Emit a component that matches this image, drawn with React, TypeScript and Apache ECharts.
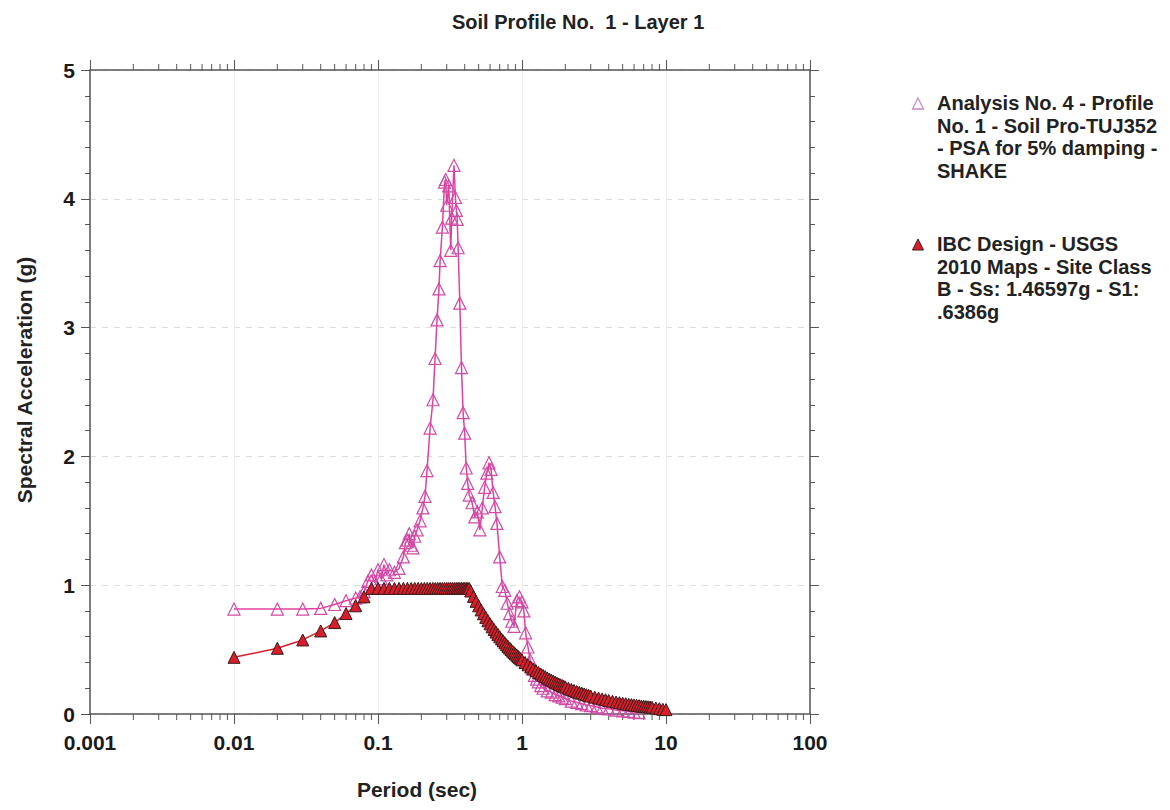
import React, { useEffect, useRef } from "react";
import * as echarts from "echarts";

const xTickLabels = ["0.001", "0.01", "0.1", "1", "10", "100"];
const yTickLabels = ["0", "1", "2", "3", "4", "5"];

// Analysis No. 4 - PSA for 5% damping (SHAKE)
const psaPeriods = [
  0.01, 0.02, 0.03, 0.04, 0.05, 0.06, 0.07, 0.075, 0.08, 0.085, 0.09, 0.095,
  0.1, 0.105, 0.11, 0.115, 0.12, 0.13, 0.14, 0.15, 0.155, 0.16, 0.165, 0.17,
  0.175, 0.18, 0.187, 0.196, 0.205, 0.212, 0.219, 0.23, 0.241, 0.249, 0.257,
  0.265, 0.27, 0.28, 0.29, 0.295, 0.3, 0.31, 0.32, 0.325, 0.337, 0.345, 0.35,
  0.355, 0.36, 0.37, 0.38, 0.39, 0.4, 0.41, 0.42, 0.43, 0.45, 0.47, 0.49, 0.51,
  0.53, 0.55, 0.57, 0.59, 0.61, 0.63, 0.65, 0.67, 0.7, 0.73, 0.76, 0.79, 0.82,
  0.85, 0.88, 0.92, 0.96, 1.0, 1.03, 1.06, 1.1, 1.14, 1.18, 1.22, 1.26, 1.3,
  1.35, 1.4, 1.5, 1.6, 1.7, 1.8, 1.9, 2.0, 2.2, 2.4, 2.6, 2.8, 3.0, 3.3, 3.6,
  4.0, 4.5, 5.0, 5.5, 6.0, 6.5,
];
const psaSA = [
  0.815, 0.815, 0.815, 0.82, 0.85, 0.88, 0.9, 0.91, 0.95, 1.03, 1.08, 1.02,
  1.12, 1.05, 1.16, 1.08, 1.12, 1.1, 1.13, 1.22, 1.33, 1.35, 1.4, 1.31,
  1.29, 1.38, 1.43, 1.5, 1.6, 1.69, 1.89, 2.22, 2.44, 2.76, 3.06,
  3.3, 3.52, 3.78, 4.13, 4.15, 3.95, 4.1, 3.6, 3.85, 4.26, 4.01, 3.91,
  3.84, 3.62, 3.19, 2.69, 2.34, 2.18, 1.91, 1.79, 1.7, 1.64, 1.53, 1.57, 1.43,
  1.6, 1.76, 1.87, 1.95, 1.9, 1.72, 1.61, 1.48, 1.22, 0.99, 0.96, 0.86, 0.78,
  0.72, 0.68, 0.88, 0.91, 0.87, 0.8, 0.63, 0.52, 0.42, 0.35, 0.3, 0.27, 0.25,
  0.22, 0.2, 0.18, 0.17, 0.15, 0.14, 0.13, 0.12, 0.1, 0.09, 0.08, 0.07, 0.065, 0.055, 0.045,
  0.04, 0.03, 0.025, 0.02, 0.015, 0.01,
];

// IBC Design - USGS 2010 Maps - Site Class B
const ibcPeriods = [
  0.01, 0.02, 0.03, 0.04, 0.05, 0.06, 0.07, 0.08,
  0.09, 0.1, 0.11, 0.12, 0.13, 0.14, 0.15, 0.16, 0.17, 0.18, 0.19, 0.2, 0.21,
  0.22, 0.23, 0.24, 0.25, 0.26, 0.27, 0.28, 0.29, 0.3, 0.31, 0.32, 0.33, 0.34,
  0.35, 0.36, 0.37, 0.38, 0.39, 0.4, 0.41, 0.42, 0.43,
  0.44, 0.46, 0.48, 0.5, 0.52, 0.54, 0.56, 0.58, 0.6, 0.62, 0.64, 0.66, 0.68,
  0.7, 0.72, 0.74, 0.76, 0.78, 0.8, 0.82, 0.84, 0.86, 0.88, 0.9, 0.92, 0.94,
  0.96, 0.98, 1.0, 1.05, 1.1, 1.15, 1.2, 1.25, 1.3, 1.35, 1.4, 1.45, 1.5, 1.55,
  1.6, 1.65, 1.7, 1.75, 1.8, 1.85, 1.9, 1.95, 2.0, 2.1, 2.2, 2.3, 2.4, 2.5,
  2.6, 2.7, 2.8, 2.9, 3.0, 3.2, 3.4, 3.6, 3.8, 4.0, 4.25, 4.5, 4.75, 5.0,
  5.25, 5.5, 5.75, 6.0, 6.25, 6.5, 6.75, 7.0, 7.25, 7.5, 7.75, 8.0, 8.5, 9.0,
  9.5, 10.0,
];
const ibcSA = [
  0.44, 0.51, 0.575, 0.645, 0.71, 0.78, 0.84, 0.91,
  0.975, 0.975, 0.975, 0.975, 0.975, 0.975, 0.975, 0.975, 0.975, 0.975, 0.975, 0.975, 0.975,
  0.975, 0.975, 0.975, 0.975, 0.975, 0.975, 0.975, 0.975, 0.975, 0.975, 0.975, 0.975, 0.975,
  0.975, 0.975, 0.975, 0.975, 0.975, 0.975, 0.975, 0.975, 0.975,
  0.955, 0.913, 0.875, 0.84, 0.808, 0.778, 0.75, 0.724, 0.7, 0.677, 0.656, 0.636, 0.618,
  0.6, 0.583, 0.568, 0.553, 0.538, 0.525, 0.512, 0.5, 0.488, 0.477, 0.467, 0.457, 0.447,
  0.438, 0.429, 0.42, 0.4, 0.382, 0.365, 0.35, 0.336, 0.323, 0.311, 0.3, 0.29, 0.28, 0.271,
  0.263, 0.255, 0.247, 0.24, 0.233, 0.227, 0.221, 0.215, 0.21, 0.2, 0.191, 0.183, 0.175, 0.168,
  0.162, 0.156, 0.15, 0.145, 0.14, 0.131, 0.124, 0.117, 0.111, 0.105, 0.099, 0.093, 0.088, 0.084,
  0.08, 0.076, 0.073, 0.07, 0.067, 0.065, 0.062, 0.06, 0.058, 0.056, 0.054, 0.0525, 0.0465, 0.0415,
  0.037, 0.034,
];

const titleText = "Soil Profile No.  1 - Layer 1";
const psaName = "Analysis No. 4 - Profile\nNo. 1 - Soil Pro-TUJ352\n- PSA for 5% damping -\nSHAKE";
const ibcName = "IBC Design - USGS\n2010 Maps - Site Class\nB - Ss: 1.46597g - S1:\n.6386g";

const decadeStarts = [0.001, 0.01, 0.1, 1, 10];
const minorMultipliers = [2, 3, 4, 5, 6, 7, 8, 9];

const FONT = '"Liberation Sans", Arial, Helvetica, sans-serif';
const PINK = "#e2409e";
const PINK_EDGE = "#d04aa8";
const RED = "#d81e2a";
const AXIS = "#555";

export default function App() {
  const ref = useRef<HTMLDivElement>(null);

  useEffect(() => {
    document.body.style.margin = "0";
    if (!ref.current) return;
    const chart = echarts.init(ref.current, null, { renderer: "svg" });

    const psaData = psaPeriods.map((t, i) => [t, psaSA[i]]);
    const ibcData = ibcPeriods.map((t, i) => [t, ibcSA[i]]);
    const minorTicks: number[][] = [];
    decadeStarts.forEach((d) =>
      minorMultipliers.forEach((m) => minorTicks.push([+(d * m).toPrecision(3), 0]))
    );

    const xLabel = (v: number) => {
      const e = Math.round(Math.log10(v));
      return xTickLabels[e + 3] ?? "";
    };

    const tickStyle = { color: AXIS, width: 1 };

    chart.setOption({
      animation: false,
      backgroundColor: "#ffffff",
      title: {
        text: titleText,
        left: 447,
        top: 7,
        textStyle: { fontFamily: FONT, fontSize: 20, fontWeight: "bold", color: "#222" },
      },
      grid: { left: 90, right: 360, top: 70, bottom: 96, containLabel: false },
      xAxis: [
        {
          type: "log",
          logBase: 10,
          min: 0.001,
          max: 100,
          name: "Period (sec)",
          nameLocation: "middle",
          nameGap: 65,
          nameTextStyle: {
            fontFamily: FONT,
            fontSize: 21,
            fontWeight: "bold",
            color: "#222",
            padding: [0, 66, 0, 0],
          },
          axisLine: { show: true, onZero: false, lineStyle: { color: AXIS, width: 1.5 } },
          axisTick: { show: true, inside: false, length: 10, lineStyle: tickStyle },
          axisLabel: {
            formatter: xLabel,
            margin: 18,
            fontFamily: FONT,
            fontSize: 21,
            fontWeight: "bold",
            color: "#1a1a1a",
          },
          splitLine: { show: true, lineStyle: { color: "#efefef", width: 1 } },
        },
        {
          type: "log",
          logBase: 10,
          min: 0.001,
          max: 100,
          position: "top",
          axisLine: { show: true, onZero: false, lineStyle: { color: AXIS, width: 1.5 } },
          axisTick: { show: true, inside: false, length: 10, lineStyle: tickStyle },
          axisLabel: { show: false },
          splitLine: { show: false },
        },
      ],
      yAxis: [
        {
          type: "value",
          min: 0,
          max: 5,
          interval: 1,
          name: "Spectral Acceleration (g)",
          nameLocation: "middle",
          nameGap: 55,
          nameRotate: 90,
          nameTextStyle: {
            fontFamily: FONT,
            fontSize: 21,
            fontWeight: "bold",
            color: "#222",
            padding: [0, 0, 0, 24],
          },
          axisLine: { show: true, onZero: false, lineStyle: { color: AXIS, width: 1.5 } },
          axisTick: { show: true, inside: false, length: 9, lineStyle: tickStyle },
          minorTick: { show: true, splitNumber: 5, length: 5, lineStyle: tickStyle },
          axisLabel: {
            formatter: (v: number) => yTickLabels[Math.round(v)] ?? "",
            margin: 15,
            fontFamily: FONT,
            fontSize: 21,
            fontWeight: "bold",
            color: "#1a1a1a",
          },
          splitLine: { show: true, lineStyle: { color: "#dcdcdc", width: 1, type: [6, 6] } },
        },
        {
          type: "value",
          min: 0,
          max: 5,
          interval: 1,
          position: "right",
          axisLine: { show: true, onZero: false, lineStyle: { color: AXIS, width: 1.5 } },
          axisTick: { show: true, inside: false, length: 9, lineStyle: tickStyle },
          minorTick: { show: true, splitNumber: 5, length: 5, lineStyle: tickStyle },
          axisLabel: { show: false },
          splitLine: { show: false },
        },
      ],
      series: [
        {
          type: "custom",
          name: "minorTicks",
          silent: true,
          clip: false,
          data: minorTicks,
          encode: { x: 0, y: 1 },
          renderItem: (params: any, api: any) => {
            const v = api.value(0);
            const b = api.coord([v, 0]);
            const t = api.coord([v, 5]);
            return {
              type: "group",
              children: [
                {
                  type: "line",
                  shape: { x1: b[0], y1: b[1], x2: b[0], y2: b[1] + 6 },
                  style: { stroke: AXIS, lineWidth: 1 },
                },
                {
                  type: "line",
                  shape: { x1: t[0], y1: t[1], x2: t[0], y2: t[1] - 6 },
                  style: { stroke: AXIS, lineWidth: 1 },
                },
              ],
            };
          },
        },
        {
          type: "line",
          name: psaName,
          data: psaData,
          symbol: "triangle",
          symbolSize: 12,
          showAllSymbol: true,
          lineStyle: { color: PINK, width: 1.5 },
          itemStyle: { color: "rgba(255,255,255,0)", borderColor: PINK_EDGE, borderWidth: 1.2 },
          z: 3,
        },
        {
          type: "line",
          name: ibcName,
          data: ibcData,
          symbol: "triangle",
          symbolSize: 12,
          showAllSymbol: true,
          lineStyle: { color: RED, width: 1.5 },
          itemStyle: { color: RED, borderColor: "#3a1a1a", borderWidth: 1 },
          z: 4,
        },
      ],
      graphic: [
        {
          type: "polygon",
          shape: { points: [[918, 98], [912.5, 109], [923.5, 109]] },
          style: { fill: "rgba(255,255,255,0)", stroke: "#c98ac6", lineWidth: 1.3 },
        },
        {
          type: "text",
          x: 937,
          y: 92,
          style: {
            text: psaName,
            font: `bold 20px ${FONT}`,
            fill: "#222",
            lineHeight: 22.5,
            verticalAlign: "top",
            align: "left",
          },
        },
        {
          type: "polygon",
          shape: { points: [[918, 239], [912.5, 250], [923.5, 250]] },
          style: { fill: RED, stroke: "#3a1a1a", lineWidth: 1 },
        },
        {
          type: "text",
          x: 937,
          y: 233,
          style: {
            text: ibcName,
            font: `bold 20px ${FONT}`,
            fill: "#222",
            lineHeight: 22.5,
            verticalAlign: "top",
            align: "left",
          },
        },
      ],
    });

    return () => chart.dispose();
  }, []);

  return <div ref={ref} style={{ width: 1170, height: 810 }} />;
}
